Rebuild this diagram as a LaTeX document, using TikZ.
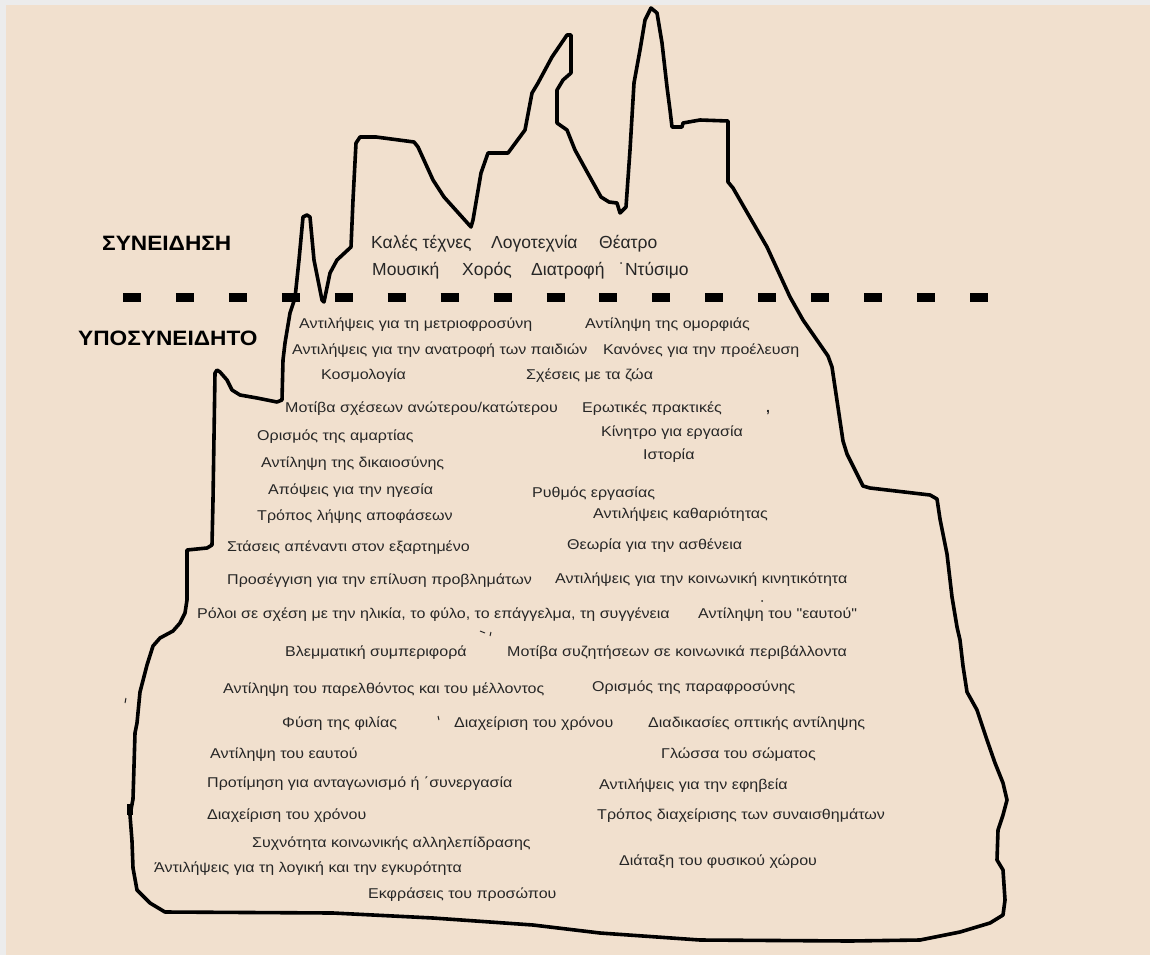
\documentclass[tikz,border=0pt]{standalone}
\usepackage{fontspec}
\setmainfont{Liberation Sans}
\newfontfamily\widefont[FakeStretch=1.13]{Liberation Sans}
\newfontfamily\headfont[FakeStretch=1.09]{Liberation Sans}
\definecolor{paper}{RGB}{241,224,206}
\definecolor{rim}{RGB}{236,236,236}
\definecolor{ink}{RGB}{38,38,38}
\begin{document}
\begin{tikzpicture}[x=1pt,y=-1pt,
  item/.style={anchor=base west, inner sep=0pt, text=ink, font=\widefont\fontsize{14.2}{16}\selectfont},
  art/.style={anchor=base west, inner sep=0pt, text=ink, font=\fontsize{17.5}{20}\selectfont},
  level/.style={anchor=base west, inner sep=0pt, text=black, font=\headfont\bfseries\fontsize{20.8}{24}\selectfont},
  outline/.style={line width=3.6pt, line join=round, line cap=round, draw=black},
  border/.style={dash pattern=on 18pt off 34.94pt, line width=9pt, draw=black},
  speck/.style={fill=black}]
\useasboundingbox (0,0) rectangle (1150,955);
\fill[rim] (0,0) rectangle (1150,955);
\fill[paper] (6,5) rectangle (1150,955);

% the iceberg outline
\draw[outline] (137,890) -- (133,868) -- (132,841) -- (130,815) -- (133,799) -- (135,733)
  -- (137,723) -- (140,692) -- (147,665) -- (153,646) -- (160,638) -- (173,631) -- (180,623)
  -- (185,613) -- (187,600) -- (187,567) -- (187,550) -- (207,548) -- (212,545) -- (213,500)
  -- (215,373) -- (217,370) -- (220,372) -- (227,380) -- (232,390) -- (240,395) -- (257,398)
  -- (277,402) -- (282,400) -- (283,360) -- (285,343) -- (290,313) -- (295,298) -- (299,260)
  -- (303,217) -- (307,215) -- (310,217) -- (314,260) -- (322,300) -- (324,302) -- (330,273)
  -- (337,260) -- (351,247) -- (353,200) -- (356,143) -- (360,137) -- (376,137) -- (414,142)
  -- (418,147) -- (433,180) -- (444,197) -- (471,227) -- (473,220) -- (481,173) -- (488,153)
  -- (508,153) -- (525,130) -- (532,93) -- (538,83) -- (552,57) -- (567,35) -- (571,35)
  -- (571,73) -- (563,80) -- (557,90) -- (557,123) -- (567,130) -- (575,150) -- (586,170)
  -- (601,197) -- (609,202) -- (617,203) -- (620,213) -- (626,207) -- (630,150) -- (634,83)
  -- (640,50) -- (645,20) -- (651,8) -- (657,13) -- (662,43) -- (667,87) -- (670,110)
  -- (672,127) -- (682,127) -- (683,123) -- (700,120) -- (728,121) -- (728,182) -- (733,188)
  -- (767,247) -- (790,297) -- (803,320) -- (828,356) -- (832,367) -- (843,441) -- (847,454)
  -- (863,486) -- (870,488) -- (930,495) -- (937,499) -- (940,519) -- (947,554) -- (952,597)
  -- (957,627) -- (960,640) -- (963,666) -- (967,692) -- (977,710) -- (987,740) -- (995,763)
  -- (1003,783) -- (1007,800) -- (1003,815) -- (998,830) -- (997,860) -- (1003,870)
  -- (1005,900) -- (1003,915) -- (990,923) -- (960,932) -- (920,940) -- (850,941)
  -- (700,940) -- (600,933) -- (533,925) -- (433,918) -- (333,913) -- (165,912) -- (150,903)
  -- cycle;
\fill[speck] (127,804) rectangle (133,815);

% waterline between the two levels
\coordinate (wl) at (123,297);
\coordinate (wr) at (988,297);
\draw[border] (wl) -- (wr);

% level names
\node[level] (lvcon) at (102,250) {ΣΥΝΕΙΔΗΣΗ};
\node[level] (lvsub) at (78,345) {ΥΠΟΣΥΝΕΙΔΗΤΟ};

% above the waterline
\node[art] (a1) at (371,248) {Καλές τέχνες};
\node[art] (a2) at (491,248) {Λογοτεχνία};
\node[art] (a3) at (599,248) {Θέατρο};
\node[art] (a4) at (372,275) {Μουσική};
\node[art] (a5) at (462,275) {Χορός};
\node[art] (a6) at (531,275) {Διατροφή};
\node[art] (a7) at (619,275) {˙Ντύσιμο};

% below the waterline
\node[item] (b1)  at (299,328) {Αντιλήψεις για τη μετριοφροσύνη};
\node[item] (b2)  at (292,354) {Αντιλήψεις για την ανατροφή των παιδιών};
\node[item] (b3)  at (321,379) {Κοσμολογία};
\node[item] (b4)  at (285,412) {Μοτίβα σχέσεων ανώτερου/κατώτερου};
\node[item] (b5)  at (257,440) {Ορισμός της αμαρτίας};
\node[item] (b6)  at (261,467) {Αντίληψη της δικαιοσύνης};
\node[item] (b7)  at (268,494) {Απόψεις για την ηγεσία};
\node[item] (b8)  at (257,520) {Τρόπος λήψης αποφάσεων};
\node[item] (b9)  at (227,551) {Στάσεις απέναντι στον εξαρτημένο};
\node[item] (b10) at (227,584) {Προσέγγιση για την επίλυση προβλημάτων};
\node[item] (b11) at (197,618) {Ρόλοι σε σχέση με την ηλικία, το φύλο, το επάγγελμα, τη συγγένεια};
\node[item] (b12) at (285,656) {Βλεμματική συμπεριφορά};
\node[item] (b13) at (223,693) {Αντίληψη του παρελθόντος και του μέλλοντος};
\node[item] (b14) at (282,727) {Φύση της φιλίας};
\node[item] (b15) at (210,758) {Αντίληψη του εαυτού};
\node[item] (b16) at (207,787) {Προτίμηση για ανταγωνισμό ή ΄συνεργασία};
\node[item] (b17) at (207,819) {Διαχείριση του χρόνου};
\node[item] (b18) at (252,847) {Συχνότητα κοινωνικής αλληλεπίδρασης};
\node[item] (b19) at (154,872) {Άντιλήψεις για τη λογική και την εγκυρότητα};
\node[item] (b20) at (368,898) {Εκφράσεις του προσώπου};

\node[item] (c1)  at (585,328) {Αντίληψη της ομορφιάς};
\node[item] (c2)  at (603,354) {Κανόνες για την προέλευση};
\node[item] (c3)  at (526,379) {Σχέσεις με τα ζώα};
\node[item] (c4)  at (582,412) {Ερωτικές πρακτικές};
\node[item] (c5)  at (601,436) {Κίνητρο για εργασία};
\node[item] (c6)  at (643,459) {Ιστορία};
\node[item] (c7)  at (532,497) {Ρυθμός εργασίας};
\node[item] (c8)  at (593,518) {Αντιλήψεις καθαριότητας};
\node[item] (c9)  at (567,549) {Θεωρία για την ασθένεια};
\node[item] (c10) at (555,583) {Αντιλήψεις για την κοινωνική κινητικότητα};
\node[item] (c11) at (698,618) {Αντίληψη του "εαυτού"};
\node[item] (c12) at (507,656) {Μοτίβα συζητήσεων σε κοινωνικά περιβάλλοντα};
\node[item] (c13) at (592,691) {Ορισμός της παραφροσύνης};
\node[item] (c14) at (454,727) {Διαχείριση του χρόνου};
\node[item] (c15) at (648,727) {Διαδικασίες οπτικής αντίληψης};
\node[item] (c16) at (661,758) {Γλώσσα του σώματος};
\node[item] (c17) at (599,789) {Αντιλήψεις για την εφηβεία};
\node[item] (c18) at (597,819) {Τρόπος διαχείρισης των συναισθημάτων};
\node[item] (c19) at (619,865) {Διάταξη του φυσικού χώρου};

% stray marks
\node[item, font=\bfseries\fontsize{14}{16}\selectfont] (m1) at (766,412) {,};
\draw[ink, line width=1pt] (480,631) -- (485,633);
\draw[ink, line width=1pt] (491,632) -- (490,636);
\draw[ink, line width=1pt] (438,716) -- (439,720);
\draw[ink, line width=1pt] (126,698) -- (125,703);
\fill[ink] (762,601) circle (1pt);
\end{tikzpicture}
\end{document}
